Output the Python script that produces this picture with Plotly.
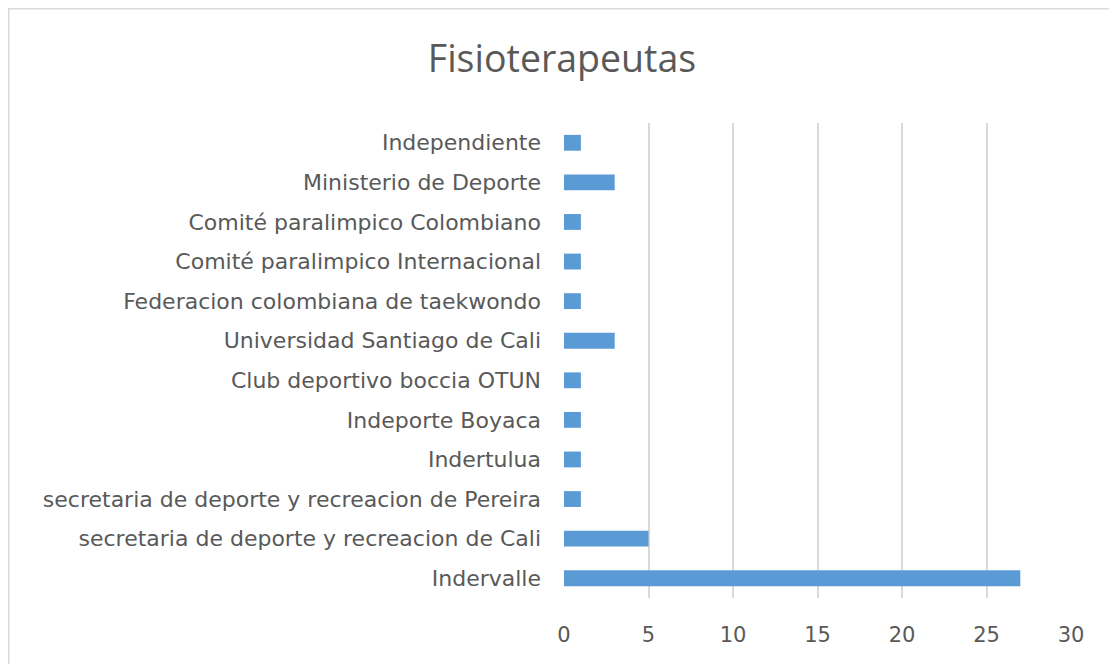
import plotly.graph_objects as go

categories = [
    "Indervalle",
    "secretaria de deporte y recreacion de Cali",
    "secretaria de deporte y recreacion de Pereira",
    "Indertulua",
    "Indeporte Boyaca",
    "Club deportivo boccia OTUN",
    "Universidad Santiago de Cali",
    "Federacion colombiana de taekwondo",
    "Comité paralimpico Internacional",
    "Comité paralimpico Colombiano",
    "Ministerio de Deporte",
    "Independiente",
]
values = [27, 5, 1, 1, 1, 1, 3, 1, 1, 1, 3, 1]
x_ticks = [0, 5, 10, 15, 20, 25, 30]

FONT = "DejaVu Sans"
GREY = "#595959"

# page has an 8px body margin, so the figure is drawn at (8, 8)
OFF = 8
W, H = 1117 - OFF, 664 - OFF
L, R, T, B = 564 - OFF, 46, 123 - OFF, 66
PW, PH = W - L - R, H - T - B

fig = go.Figure(
    go.Bar(
        x=values,
        y=categories,
        orientation="h",
        marker=dict(color="#5B9BD5", line=dict(width=0)),
    )
)

fig.update_layout(
    width=W,
    height=H,
    margin=dict(l=L, r=R, t=T, b=B),
    paper_bgcolor="white",
    plot_bgcolor="white",
    bargap=0.6,
    showlegend=False,
    title=dict(
        text="Fisioterapeutas",
        x=(562 - OFF) / W,
        xanchor="center",
        y=1 - (59 - OFF) / H,
        yanchor="middle",
        font=dict(family="Open Sans", size=37.5, color=GREY),
    ),
    font=dict(family=FONT, color=GREY),
    shapes=[
        dict(
            type="rect",
            xref="paper",
            yref="paper",
            x0=(0.75 - L) / PW,
            x1=(W + 20 - L) / PW,
            y0=-(B + 20) / PH,
            y1=(T - 0.75) / PH + 1,
            line=dict(color="#D9D9D9", width=1.5),
            fillcolor="rgba(0,0,0,0)",
            layer="below",
        )
    ],
)

fig.update_xaxes(
    range=[0, 30],
    tickvals=x_ticks,
    showgrid=True,
    gridcolor="#D9D9D9",
    gridwidth=2,
    zeroline=False,
    showline=False,
    ticks="",
    ticklabelstandoff=22,
    tickfont=dict(family=FONT, size=21, color=GREY),
)
fig.update_yaxes(
    categoryorder="array",
    categoryarray=categories,
    showgrid=False,
    zeroline=False,
    showline=False,
    ticks="",
    ticklabelstandoff=22,
    tickfont=dict(family=FONT, size=22, color=GREY),
)

fig.write_html("out.html")
